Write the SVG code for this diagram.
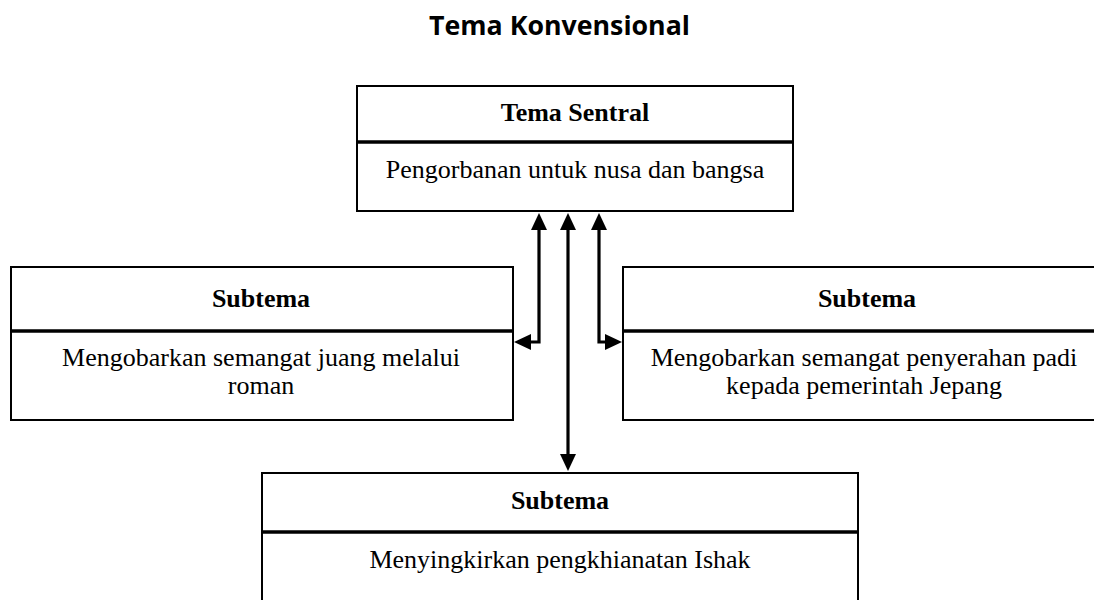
<svg xmlns="http://www.w3.org/2000/svg" width="1094" height="600" viewBox="0 0 1094 600">
<style>
.box{fill:#fff;stroke:#000;stroke-width:2}
.div{stroke:#000;stroke-width:3.5}
.h{font-family:"Liberation Serif","Times New Roman",serif;font-weight:bold;font-size:26px;text-anchor:middle;fill:#000}
.t{font-family:"Liberation Serif","Times New Roman",serif;font-size:26px;text-anchor:middle;fill:#000}
.title{font-family:"Open Sans","Noto Sans",sans-serif;font-weight:bold;font-size:27px;text-anchor:middle;fill:#000}
.c{fill:none;stroke:#000;stroke-width:3.2}
</style>
<defs>
<marker id="ah" markerUnits="userSpaceOnUse" markerWidth="18" markerHeight="18" refX="9" refY="8" orient="auto-start-reverse" viewBox="0 0 18 16">
<path d="M0,0 L17,8 L0,16 z" fill="#000"/>
</marker>
</defs>
<rect width="1094" height="600" fill="#fff"/>
<text class="title" x="559.5" y="35" textLength="261" lengthAdjust="spacingAndGlyphs">Tema  Konvensional</text>

<g id="tema-sentral">
<rect class="box" x="357" y="86" width="436" height="125"/>
<line class="div" x1="357" y1="142" x2="793" y2="142"/>
<text class="h" x="575" y="121">Tema Sentral</text>
<text class="t" x="575" y="178">Pengorbanan untuk nusa dan bangsa</text>
</g>

<g id="subtema-kiri">
<rect class="box" x="11" y="267" width="502" height="153"/>
<line class="div" x1="11" y1="331" x2="513" y2="331"/>
<text class="h" x="261" y="307">Subtema</text>
<text class="t" x="261" y="366">Mengobarkan semangat juang melalui</text>
<text class="t" x="261" y="394">roman</text>
</g>

<g id="subtema-kanan">
<rect class="box" x="623" y="267" width="490" height="153"/>
<line class="div" x1="623" y1="331" x2="1113" y2="331"/>
<text class="h" x="867" y="307">Subtema</text>
<text class="t" x="864" y="366">Mengobarkan semangat penyerahan padi</text>
<text class="t" x="864" y="394">kepada pemerintah Jepang</text>
</g>

<g id="subtema-bawah">
<rect class="box" x="262" y="473" width="596" height="150"/>
<line class="div" x1="262" y1="532" x2="858" y2="532"/>
<text class="h" x="560" y="509">Subtema</text>
<text class="t" x="560" y="568">Menyingkirkan pengkhianatan Ishak</text>
</g>

<g id="connectors">
<path class="c" d="M539,221 V342 H522" marker-start="url(#ah)" marker-end="url(#ah)"/>
<path class="c" d="M599,221 V342 H614" marker-start="url(#ah)" marker-end="url(#ah)"/>
<path class="c" d="M568,221 V463" marker-start="url(#ah)" marker-end="url(#ah)"/>
</g>
</svg>
